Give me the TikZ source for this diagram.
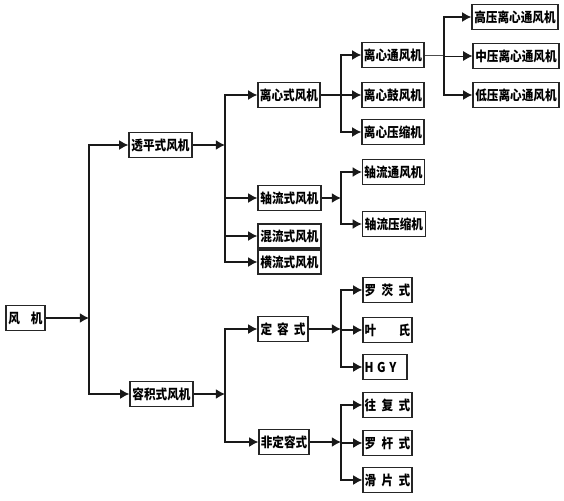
\documentclass[tikz,border=0pt]{standalone}
\usepackage{fontspec}
\newfontfamily\cjk{Noto Sans CJK SC}[FakeStretch=0.86]
\usepackage{tikz}
\usetikzlibrary{arrows.meta}
\tikzset{
    fanbox/.style={
        rectangle,
        draw=black!85,
        fill=white,
        line width=0.9pt,
        inner sep=0pt,
        minimum height=0.625cm,
        minimum width=1.575cm, % five characters
        align=center,
        font=\cjk\bfseries\fontsize{9.6}{10}\selectfont
    },
    treearrow/.style={
        -{Latex[length=2.3mm, width=2.5mm]},
        line width=1.1pt,
        draw=black!90
    },
    treeline/.style={
        line width=1.1pt,
        draw=black!90
    },
    thinline/.style={
        line width=0.6pt,
        draw=black!70
    }
}

\begin{document}
\begin{tikzpicture}[x=0.025cm, y=-0.025cm]
    \useasboundingbox (0,0) rectangle (564,500);

    % root and first level
    \node[fanbox, minimum width=0.975cm] (fan) at (25.5,318) {\makebox[0.85cm]{风\hfill 机}};
    \node[fanbox] (turbo) at (160.5,145) {透平式风机};
    \node[fanbox] (displace) at (161.5,394) {容积式风机};

    % turbo branch
    \node[fanbox, minimum width=1.55cm] (centrif) at (289,95) {离心式风机};
    \node[fanbox] (axial) at (289.5,198) {轴流式风机};
    \node[fanbox, minimum height=0.6cm] (mixed) at (289.5,236) {混流式风机};
    \node[fanbox, minimum height=0.6cm] (crossflow) at (289.5,262) {横流式风机};

    \node[fanbox, minimum width=1.55cm] (centvent) at (393,55) {离心通风机};
    \node[fanbox, minimum width=1.55cm] (centblow) at (393,95) {离心鼓风机};
    \node[fanbox, minimum width=1.55cm] (centcomp) at (393,132) {离心压缩机};
    \node[fanbox, minimum width=1.55cm] (axvent) at (393.5,172) {轴流通风机};
    \node[fanbox] (axcomp) at (394,224) {轴流压缩机};

    \node[fanbox, minimum width=2.15cm] (highp) at (515,17) {高压离心通风机};
    \node[fanbox, minimum width=2.15cm] (midp) at (516,56) {中压离心通风机};
    \node[fanbox, minimum width=2.15cm] (lowp) at (516,95) {低压离心通风机};

    % displacement branch
    \node[fanbox, minimum width=1.25cm] (fixedvol) at (283,329) {\makebox[1.12cm]{定\hfill 容\hfill 式}};
    \node[fanbox, minimum width=1.25cm] (varvol) at (284,442) {非定容式};

    \node[fanbox, minimum width=1.225cm] (roots) at (387.5,290) {\makebox[1.14cm]{罗\hfill 茨\hfill 式}};
    \node[fanbox, minimum width=1.225cm] (yeshi) at (387.5,330) {\makebox[1.14cm]{叶\hfill 氏}};
    \node[fanbox, minimum width=1.1cm] (hgy) at (385,367) {\makebox[1.02cm][l]{H\hspace{0.9mm}G\hspace{0.9mm}Y}};
    \node[fanbox, minimum width=1.225cm] (recip) at (387.5,405) {\makebox[1.14cm]{往\hfill 复\hfill 式}};
    \node[fanbox, minimum width=1.225cm] (screw) at (387.5,443) {\makebox[1.14cm]{罗\hfill 杆\hfill 式}};
    \node[fanbox, minimum width=1.225cm] (slide) at (387.5,480) {\makebox[1.14cm]{滑\hfill 片\hfill 式}};

    % joints on the trunk lines
    \coordinate (fanjoint) at (89,318);
    \coordinate (turbojoint) at (225,145);
    \coordinate (dispjoint) at (225,394);
    \coordinate (centjoint) at (341,95);
    \coordinate (axjoint) at (341,198);
    \coordinate (fixjoint) at (341,329);
    \coordinate (varjoint) at (341,442);
    \coordinate (ventjoint) at (444,55);

    \draw[treearrow] (fan) -- (fanjoint);
    \draw[treearrow] (fanjoint) |- (turbo.west);
    \draw[treearrow] (fanjoint) |- (displace.west);

    \draw[treearrow] (turbo) -- (turbojoint);
    \draw[treearrow] (turbojoint) |- (centrif.west);
    \draw[treearrow] (turbojoint) |- (axial.west);
    \draw[treearrow] (turbojoint) |- (mixed.west);
    \draw[treearrow] (turbojoint) |- (crossflow.west);

    \draw[treeline] (centrif) -- (centjoint);
    \draw[treearrow] (centjoint) |- (centvent.west);
    \draw[treearrow] (centjoint) |- (centblow.west);
    \draw[treearrow] (centjoint) |- (centcomp.west);

    \draw[treearrow] (axial) -- (axjoint);
    \draw[treearrow] (axjoint) |- (axvent.west);
    \draw[treearrow] (axjoint) |- (axcomp.west);

    \draw[thinline] (centvent) -- (ventjoint);
    \draw[treearrow] (ventjoint) |- (highp.west);
    \draw[treearrow, line width=0.6pt] (ventjoint) |- (midp.west);
    \draw[treearrow] (ventjoint) |- (lowp.west);

    \draw[treearrow] (displace) -- (dispjoint);
    \draw[treearrow] (dispjoint) |- (fixedvol.west);
    \draw[treearrow] (dispjoint) |- (varvol.west);

    \draw[treearrow] (fixedvol) -- (fixjoint);
    \draw[treearrow] (fixjoint) |- (roots.west);
    \draw[treearrow] (fixjoint) |- (yeshi.west);
    \draw[treearrow] (fixjoint) |- (hgy.west);

    \draw[treearrow] (varvol) -- (varjoint);
    \draw[treearrow] (varjoint) |- (recip.west);
    \draw[treearrow] (varjoint) |- (screw.west);
    \draw[treearrow] (varjoint) |- (slide.west);
\end{tikzpicture}
\end{document}
